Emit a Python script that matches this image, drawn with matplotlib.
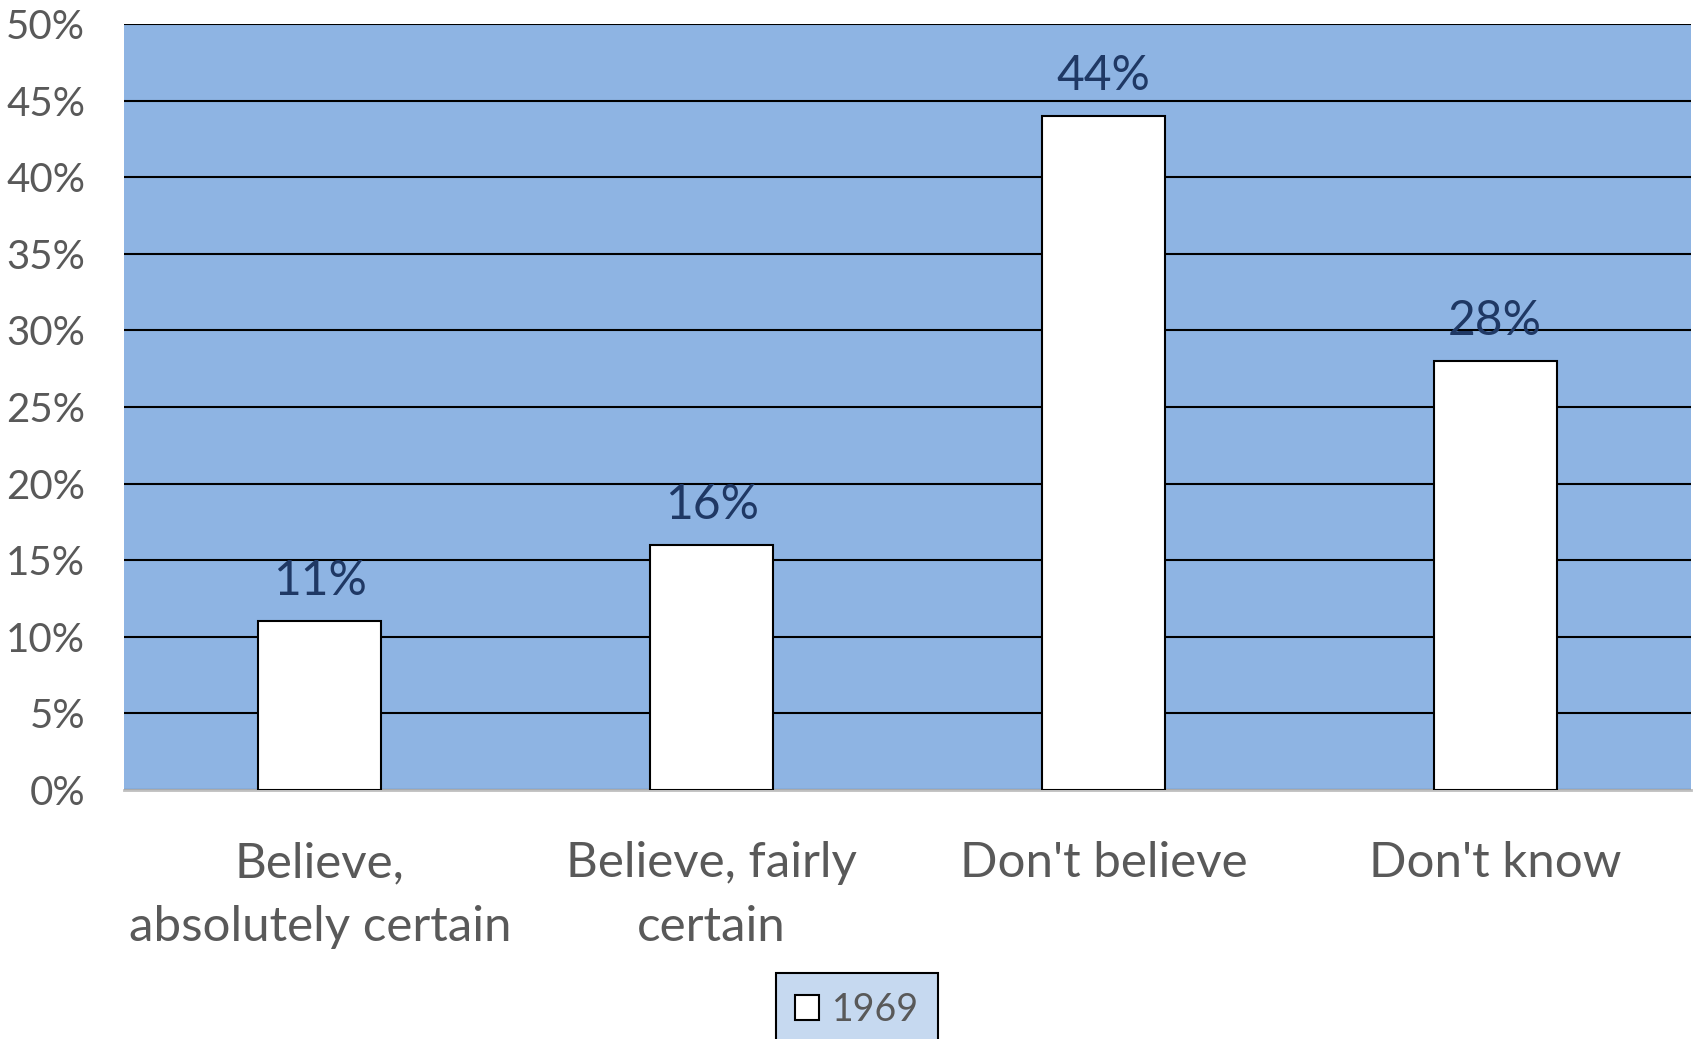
import matplotlib.pyplot as plt
from matplotlib.patches import Patch

# data
categories = ["Believe,\nabsolutely certain", "Believe, fairly\ncertain",
              "Don't believe", "Don't know"]
values_1969 = [11, 16, 44, 28]
y_ticks = [0, 5, 10, 15, 20, 25, 30, 35, 40, 45, 50]

BG = '#8eb4e3'
GRAY = '#595959'
NAVY = '#1f3864'

plt.rcParams['font.family'] = ['Lato', 'DejaVu Sans']

W, H = 1696, 1039
fig = plt.figure(figsize=(W / 100, H / 100), dpi=100)
ax = fig.add_axes([124 / W, (H - 790) / H, 1567 / W, 766 / H])
ax.set_facecolor(BG)

x = range(len(categories))
bars = ax.bar(x, values_1969, width=0.314, color='white', edgecolor='black',
              linewidth=1.5, zorder=3, label='1969')

for b, v in zip(bars, values_1969):
    ax.annotate('%d%%' % v, (b.get_x() + b.get_width() / 2, v),
                xytext=(0, 29), textcoords='offset points',
                ha='center', va='center', fontsize=34.5, color=NAVY, zorder=4)

ax.set_xlim(-0.5, len(categories) - 0.5)
ax.set_ylim(0, 50)
ax.set_yticks(y_ticks)
ax.set_yticklabels(['%d%%' % t for t in y_ticks])
ax.set_xticks(list(x))
ax.set_xticklabels(categories, linespacing=1.55)

ax.tick_params(axis='y', length=0, labelsize=29, labelcolor=GRAY, pad=28)
ax.tick_params(axis='x', length=0, labelsize=35.5, labelcolor=GRAY, pad=37)

ax.yaxis.grid(True, color='black', linewidth=1.5, zorder=1)
ax.set_axisbelow(True)
for s in ['top', 'left', 'right']:
    ax.spines[s].set_visible(False)
ax.spines['bottom'].set_color('#bfbfbf')
ax.spines['bottom'].set_linewidth(2)

handle = Patch(facecolor='white', edgecolor='black', linewidth=1.5)
leg = fig.legend([handle], ['1969'], loc='upper center',
                 bbox_to_anchor=(857 / W, (H - 973) / H), fontsize=27,
                 frameon=True, fancybox=False, framealpha=1,
                 facecolor='#c6d9f0', edgecolor='black',
                 handlelength=0.65, handleheight=0.65, handletextpad=0.35,
                 borderpad=0.5, borderaxespad=0, labelcolor=GRAY)
leg.get_frame().set_linewidth(1.5)

fig.savefig('out.png', dpi=100)
